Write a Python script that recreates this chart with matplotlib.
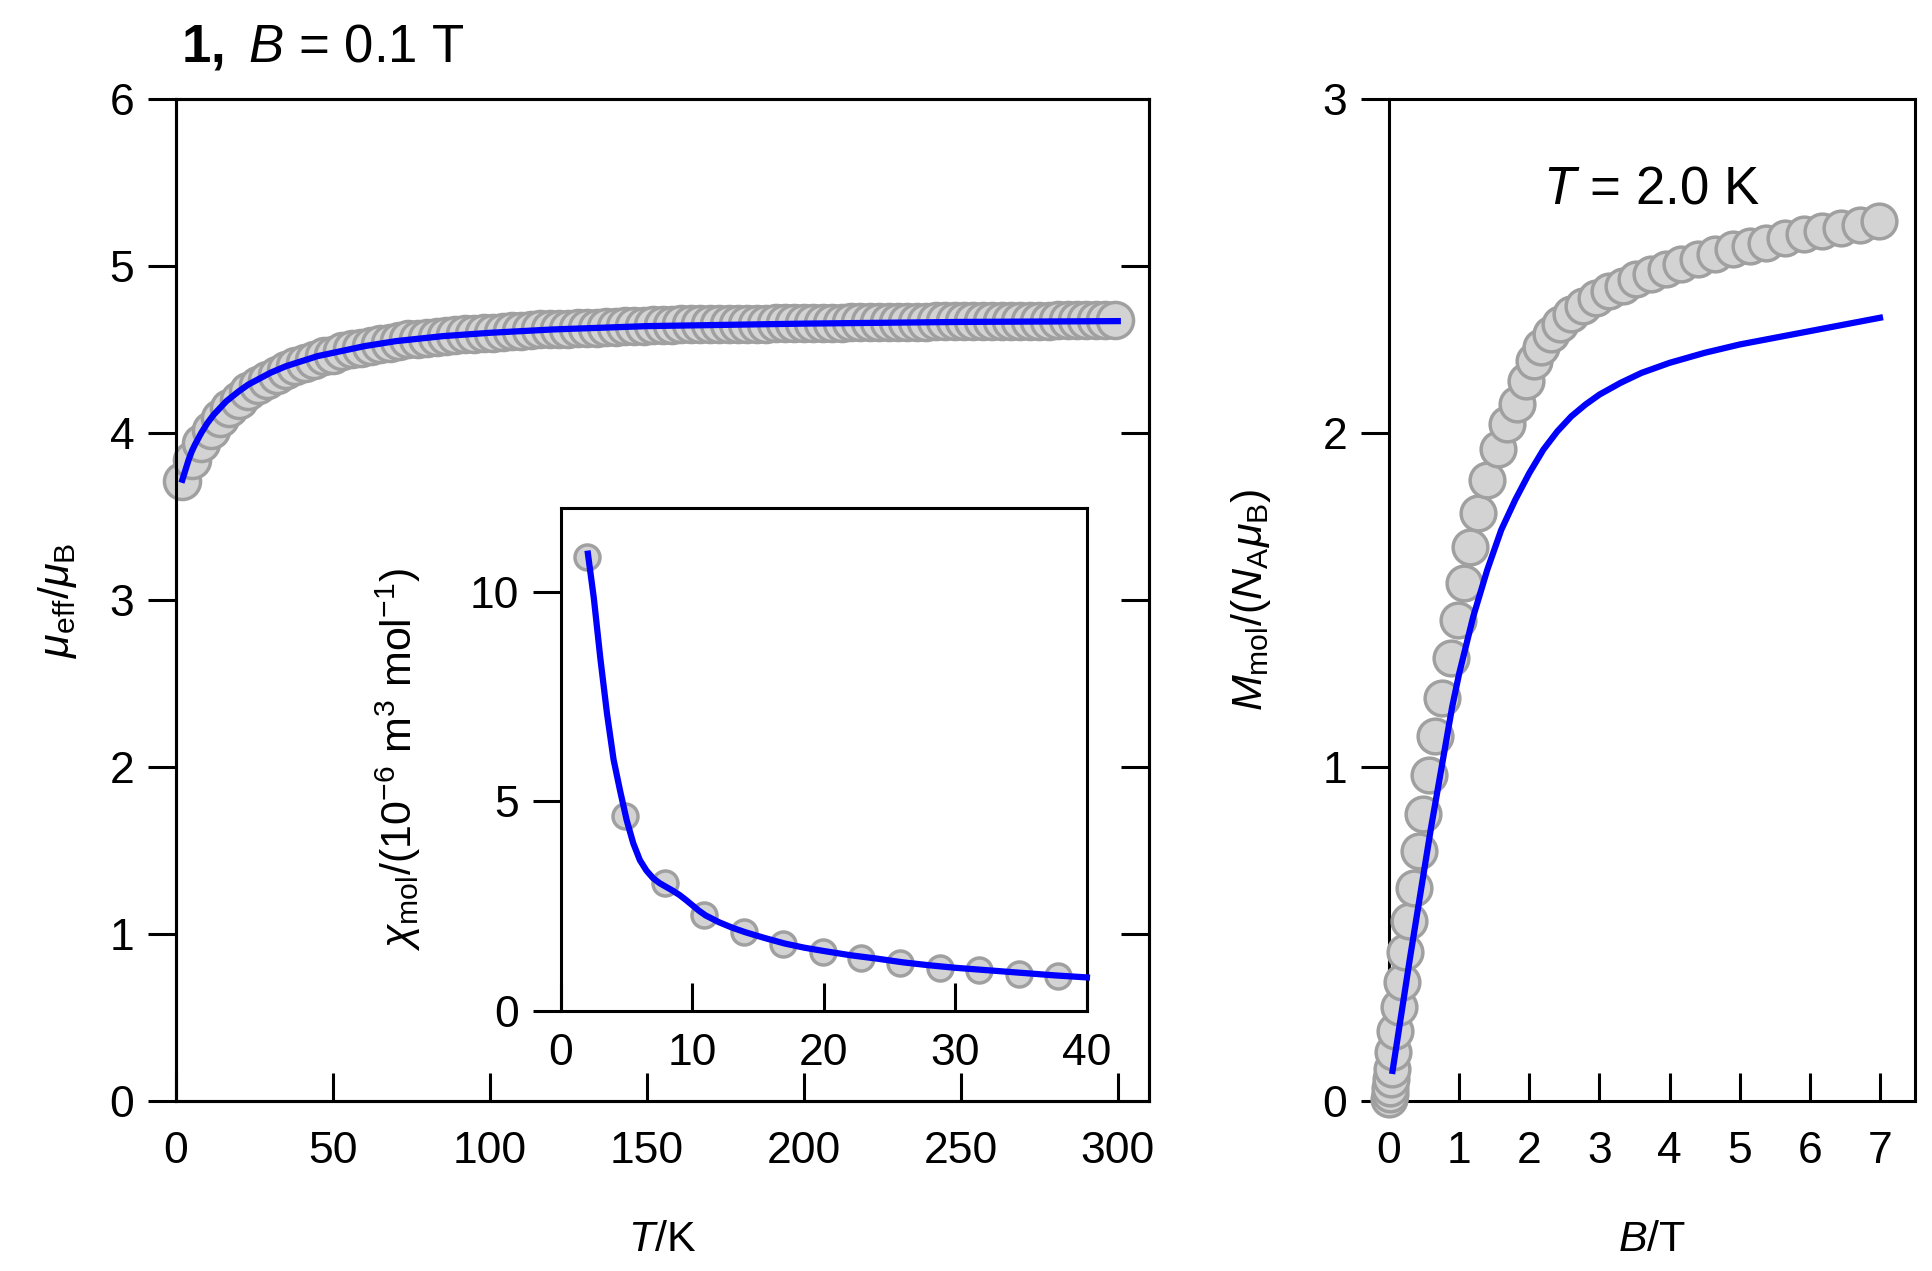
import matplotlib
matplotlib.use("Agg")
import matplotlib.pyplot as plt

plt.rcParams['font.family'] = ['Liberation Sans', 'DejaVu Sans']
plt.rcParams['mathtext.fontset'] = 'custom'
plt.rcParams['mathtext.rm'] = 'Liberation Sans'
plt.rcParams['mathtext.it'] = 'Liberation Sans:italic'
plt.rcParams['mathtext.bf'] = 'Liberation Sans:bold'

# mu_eff vs T (measured), B = 0.1 T
T_data = [2, 5, 8, 11, 14, 17, 20, 23, 26, 29,
          32, 35, 38, 41, 44, 47, 50, 53, 56, 59,
          62, 65, 68, 71, 74, 77, 80, 83, 86, 89,
          92, 95, 98, 101, 104, 107, 110, 113, 116, 119,
          122, 125, 128, 131, 134, 137, 140, 143, 146, 149,
          152, 155, 158, 161, 164, 167, 170, 173, 176, 179,
          182, 185, 188, 191, 194, 197, 200, 203, 206, 209,
          212, 215, 218, 221, 224, 227, 230, 233, 236, 239,
          242, 245, 248, 251, 254, 257, 260, 263, 266, 269,
          272, 275, 278, 281, 284, 287, 290, 293, 296, 299]
mu_data = [3.71, 3.84, 3.94, 4.02, 4.09, 4.15, 4.20, 4.25, 4.29, 4.32,
           4.35, 4.38, 4.40, 4.42, 4.44, 4.46, 4.47, 4.49, 4.50, 4.51,
           4.52, 4.53, 4.54, 4.55, 4.56, 4.565, 4.57, 4.575, 4.58, 4.585,
           4.59, 4.595, 4.60, 4.60, 4.605, 4.61, 4.61, 4.615, 4.62, 4.62,
           4.625, 4.625, 4.63, 4.63, 4.63, 4.635, 4.635, 4.64, 4.64, 4.64,
           4.645, 4.645, 4.645, 4.65, 4.65, 4.65, 4.65, 4.65, 4.655, 4.655,
           4.655, 4.655, 4.655, 4.66, 4.66, 4.66, 4.66, 4.66, 4.66, 4.66,
           4.66, 4.665, 4.665, 4.665, 4.665, 4.665, 4.665, 4.665, 4.665, 4.665,
           4.67, 4.67, 4.67, 4.67, 4.67, 4.67, 4.67, 4.67, 4.67, 4.67,
           4.67, 4.67, 4.67, 4.675, 4.675, 4.675, 4.675, 4.675, 4.675, 4.675]
# fit
T_fit = [2, 3, 4, 5, 6, 8, 10, 12, 14, 16, 18, 20, 23, 26, 30, 35, 40, 45, 50,
         60, 70, 85, 100, 120, 150, 200, 250, 300]
mu_fit = [3.72, 3.78, 3.84, 3.89, 3.93, 4.00, 4.06, 4.11, 4.15, 4.19, 4.22, 4.25,
          4.29, 4.32, 4.36, 4.40, 4.43, 4.46, 4.48, 4.52, 4.55, 4.58, 4.60, 4.62,
          4.64, 4.655, 4.665, 4.67]

# inset: chi_mol vs T
T_chi = [2, 4.9, 7.9, 10.9, 13.9, 16.9, 19.9, 22.8, 25.8, 28.8, 31.8, 34.8, 37.8]
chi_data = [10.82, 4.66, 3.06, 2.30, 1.89, 1.60, 1.40, 1.26, 1.14, 1.03, 0.97, 0.89, 0.84]
T_chi_fit = [2.05, 2.5, 3.0, 3.5, 4.0, 4.5, 5.0, 5.5, 6.0, 6.5, 7.0, 7.5, 8.0, 8.5,
             9.0, 9.5, 10.0, 10.5, 11.0, 12.0, 13.0, 14.0, 15.5, 17.0, 18.5, 20.0,
             22.0, 24.0, 26.0, 28.0, 30.0, 32.5, 35.0, 37.5, 40.0]
chi_fit = [10.91, 9.85, 8.40, 7.10, 6.00, 5.25, 4.55, 4.00, 3.60, 3.35, 3.17, 3.05,
           2.96, 2.87, 2.77, 2.65, 2.52, 2.39, 2.28, 2.12, 1.99, 1.88, 1.74, 1.61,
           1.51, 1.43, 1.33, 1.25, 1.16, 1.09, 1.03, 0.97, 0.91, 0.85, 0.80]

# magnetization at T = 2.0 K
B_data = [0.0, 0.01, 0.02, 0.03, 0.04, 0.05, 0.09, 0.135, 0.18, 0.23,
          0.29, 0.35, 0.42, 0.49, 0.57, 0.66, 0.75, 0.88, 0.98, 1.07,
          1.16, 1.27, 1.39, 1.55, 1.68, 1.82, 1.95, 2.06, 2.17, 2.31,
          2.44, 2.6, 2.76, 2.95, 3.14, 3.33, 3.52, 3.74, 3.95, 4.17,
          4.41, 4.65, 4.9, 5.14, 5.38, 5.65, 5.91, 6.17, 6.44, 6.71, 6.98]
M_data = [0.005, 0.02, 0.04, 0.065, 0.095, 0.147, 0.208, 0.28, 0.355, 0.446,
          0.54, 0.638, 0.747, 0.86, 0.976, 1.094, 1.205, 1.325, 1.44, 1.55,
          1.66, 1.76, 1.86, 1.952, 2.027, 2.087, 2.156, 2.216, 2.256, 2.296,
          2.326, 2.356, 2.38, 2.405, 2.425, 2.44, 2.46, 2.475, 2.49, 2.505,
          2.52, 2.535, 2.55, 2.56, 2.57, 2.585, 2.595, 2.605, 2.615, 2.624, 2.634]
B_fit = [0.05, 0.3, 0.6, 0.9, 1.0, 1.2, 1.4, 1.6, 1.8, 2.0, 2.2, 2.4, 2.6, 2.8, 3.0,
         3.3, 3.6, 4.0, 4.5, 5.0, 5.5, 6.0, 6.5, 7.0]
M_fit = [0.09, 0.43, 0.82, 1.18, 1.28, 1.45, 1.59, 1.71, 1.80, 1.88, 1.95, 2.005,
         2.05, 2.085, 2.115, 2.15, 2.18, 2.21, 2.24, 2.265, 2.285, 2.305, 2.325, 2.345]

face = '#d3d3d3'
edge = '#a0a0a0'
blue = '#0000ff'
tick_fs = 32
lab_fs = 31
lw_ax = 2.2

fig = plt.figure(figsize=(19.33, 12.71), dpi=100)
ax = fig.add_axes([0.0911, 0.1338, 0.5034, 0.7883])
ax_r = fig.add_axes([0.7186, 0.1338, 0.2721, 0.7883])
ax_in = fig.add_axes([0.2902, 0.2046, 0.2721, 0.3957])

# main panel
ax.plot(T_data, mu_data, 'o', ms=26, mfc=face, mec=edge, mew=2.5, clip_on=False, zorder=3)
ax.plot(T_fit, mu_fit, '-', color=blue, lw=4.5, zorder=4, clip_on=False)
ax.set_xlim(0, 310)
ax.set_ylim(0, 6)
ax.set_xticks(range(0, 301, 50))
ax.set_yticks(range(0, 7))
ax.tick_params(axis='y', direction='out', length=20, width=lw_ax, labelsize=tick_fs, pad=10)
ax.tick_params(axis='x', direction='in', length=20, width=lw_ax, labelsize=tick_fs, pad=22)
ax.set_xlabel(r'$T$/K', fontsize=lab_fs, labelpad=34)
ax.set_ylabel(r'$\mu_{\rm eff}/\mu_{\rm B}$', fontsize=lab_fs, labelpad=22)
for s in ax.spines.values():
    s.set_linewidth(lw_ax)
ax_twin = ax.twinx()
ax_twin.set_ylim(0, 6)
ax_twin.set_yticks(range(1, 6))
ax_twin.tick_params(axis='y', direction='in', length=20, width=lw_ax, labelright=False)
for s in ax_twin.spines.values():
    s.set_linewidth(lw_ax)

fig.text(0.0936, 0.963, r'$\mathbf{1,}$ $B$ = 0.1 T', fontsize=38, va='center', ha='left')

# inset
ax_in.plot(T_chi, chi_data, 'o', ms=18, mfc=face, mec=edge, mew=2.5, zorder=3)
ax_in.plot(T_chi_fit, chi_fit, '-', color=blue, lw=4.5, zorder=4, clip_on=False)
ax_in.set_xlim(0, 40)
ax_in.set_ylim(0, 12)
ax_in.set_xticks(range(0, 41, 10))
ax_in.set_yticks([0, 5, 10])
ax_in.tick_params(axis='y', direction='out', length=20, width=lw_ax, labelsize=tick_fs, pad=10)
ax_in.tick_params(axis='x', direction='in', length=20, width=lw_ax, labelsize=tick_fs, pad=16)
ax_in.set_ylabel(r'$\chi_{\rm mol}/(10^{-6}\ {\rm m}^3\ {\rm mol}^{-1})$', fontsize=31, labelpad=34)
for s in ax_in.spines.values():
    s.set_linewidth(lw_ax)

# right panel
ax_r.plot(B_data, M_data, 'o', ms=25, mfc=face, mec=edge, mew=2.5, clip_on=False, zorder=3)
ax_r.plot(B_fit, M_fit, '-', color=blue, lw=4.5, zorder=4)
ax_r.set_xlim(0, 7.5)
ax_r.set_ylim(0, 3)
ax_r.set_xticks(range(0, 8))
ax_r.set_yticks(range(0, 4))
ax_r.tick_params(axis='y', direction='out', length=20, width=lw_ax, labelsize=tick_fs, pad=10)
ax_r.tick_params(axis='x', direction='in', length=20, width=lw_ax, labelsize=tick_fs, pad=22)
ax_r.set_xlabel(r'$B$/T', fontsize=lab_fs, labelpad=34)
ax_r.set_ylabel(r'$M_{\rm mol}/(N_{\rm A}\mu_{\rm B})$', fontsize=lab_fs, labelpad=36)
ax_r.text(2.2, 2.73, r'$T$ = 2.0 K', fontsize=38, va='center', ha='left')
for s in ax_r.spines.values():
    s.set_linewidth(lw_ax)

fig.savefig('out.png', dpi=100)
